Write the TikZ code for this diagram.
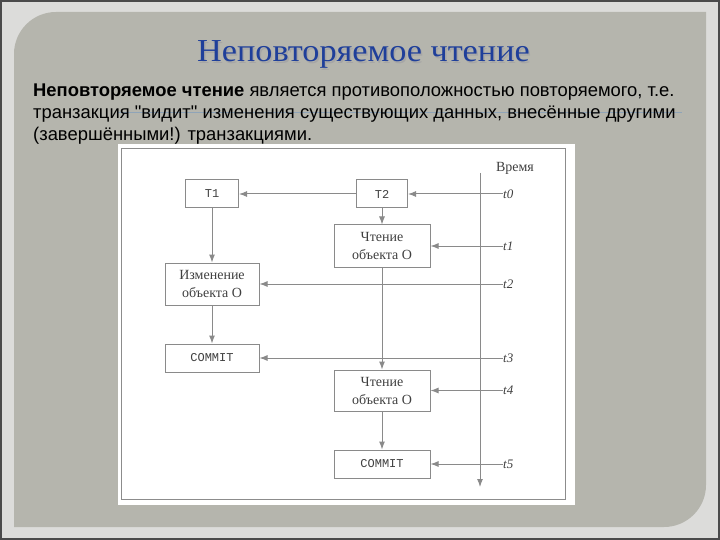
\documentclass[tikz,border=0pt]{standalone}
\usepackage{fontspec}
\usetikzlibrary{arrows.meta}
\setmainfont{Liberation Sans}[Ligatures=TeXOff]
\newfontfamily\titlefont{Liberation Serif}
\newfontfamily\boxfont{Liberation Serif}
\newfontfamily\monofont{Liberation Mono}
\definecolor{framegray}{HTML}{DCDCDA}
\definecolor{edgegray}{HTML}{4A4A4A}
\definecolor{panelgray}{HTML}{B5B5AD}
\definecolor{titleblue}{HTML}{1F3F9A}
\definecolor{stripe}{HTML}{8FA4B8}
\definecolor{linegray}{HTML}{8A8A8A}
\definecolor{textgray}{HTML}{404040}
\begin{document}
\begin{tikzpicture}[x=1pt,y=-1pt,
	box/.style={draw=linegray,line width=1pt,fill=white,inner sep=0pt,text=textgray,align=center},
	rbox/.style={box,font=\boxfont\fontsize{14}{18}\selectfont},
	mbox/.style={box,minimum height=28pt,font=\monofont\fontsize{12}{12}\selectfont},
	tlabel/.style={inner sep=0pt,anchor=west,text=textgray,font=\boxfont\itshape\fontsize{13}{13}\selectfont},
	arr/.style={->,>={Latex[length=8pt,width=6pt]},draw=linegray,line width=1pt},
	body/.style={anchor=base west,inner sep=0pt,font=\fontsize{18.4}{22}\selectfont}]
	\useasboundingbox (0,0) rectangle (720,540);
	% slide frame and panel
	\fill[framegray] (0,0) rectangle (720,540);
	\draw[edgegray,line width=2pt] (1,1) rectangle (719,539);
	\fill[panelgray] (14,527) -- (14,54) arc(180:270:42) -- (706,12) -- (706,485) arc(0:90:42) -- cycle;
	% title
	\node[anchor=base,text=black!35,font=\titlefont\fontsize{32}{32}\selectfont] at (365,63.5) {\scalebox{1.07}[1]{Неповторяемое чтение}};
	\node[anchor=base,text=titleblue,font=\titlefont\fontsize{32}{32}\selectfont] (title) at (363.5,62) {\scalebox{1.07}[1]{Неповторяемое чтение}};
	\draw[stripe,line width=1pt] (118,113) -- (682,113);
	% text
	\node[body] (line1) at (33,97) {\textbf{Неповторяемое чтение} является противоположностью повторяемого, т.е.};
	\node[body] (line2) at (33,119) {транзакция "видит" изменения существующих данных, внесённые другими};
	\node[body] (line3) at (33,141) {(завершёнными!) транзакциями.};
	% picture
	\fill[white] (118,144) rectangle (575,505);
	\draw[black!45,line width=0.8pt] (121,148) rectangle (565,499);
	\node[mbox,minimum width=53pt] (t1) at (212,194) {T1};
	\node[mbox,minimum width=51pt] (t2) at (382,194) {T2};
	\node[rbox,minimum width=96pt,minimum height=42pt] (read1) at (382,246) {Чтение\\объекта O};
	\node[rbox,minimum width=94pt,minimum height=42pt] (izm) at (212,284) {Изменение\\объекта O};
	\node[mbox,minimum width=94pt] (commit1) at (212,358) {COMMIT};
	\node[rbox,minimum width=96pt,minimum height=41pt] (read2) at (382,390.5) {Чтение\\объекта O};
	\node[mbox,minimum width=96pt] (commit2) at (382,464) {COMMIT};
	% time axis
	\node[text=textgray,font=\boxfont\fontsize{14}{14}\selectfont] (vremya) at (515,168) {Время};
	\coordinate (ax0) at (480,173);
	\coordinate (ax1) at (480,487);
	\draw[arr] (ax0) -- (ax1);
	\node[tlabel] (c0) at (503,194) {t0};
	\node[tlabel] (c1) at (503,246) {t1};
	\node[tlabel] (c2) at (503,284) {t2};
	\node[tlabel] (c3) at (503,358) {t3};
	\node[tlabel] (c4) at (503,390.5) {t4};
	\node[tlabel] (c5) at (503,464) {t5};
	% connectors
	\draw[arr] (c0.west) -- (t2.east);
	\draw[arr] (t2.west) -- (t1.east);
	\draw[arr] (c1.west) -- (read1.east);
	\draw[arr] (c2.west) -- (izm.east);
	\draw[arr] (c3.west) -- (commit1.east);
	\draw[arr] (c4.west) -- (read2.east);
	\draw[arr] (c5.west) -- (commit2.east);
	\draw[arr] (t1.south) -- (izm.north);
	\draw[arr] (izm.south) -- (commit1.north);
	\draw[arr] (t2.south) -- (read1.north);
	\draw[arr] (read1.south) -- (read2.north);
	\draw[arr] (read2.south) -- (commit2.north);
\end{tikzpicture}
\end{document}
